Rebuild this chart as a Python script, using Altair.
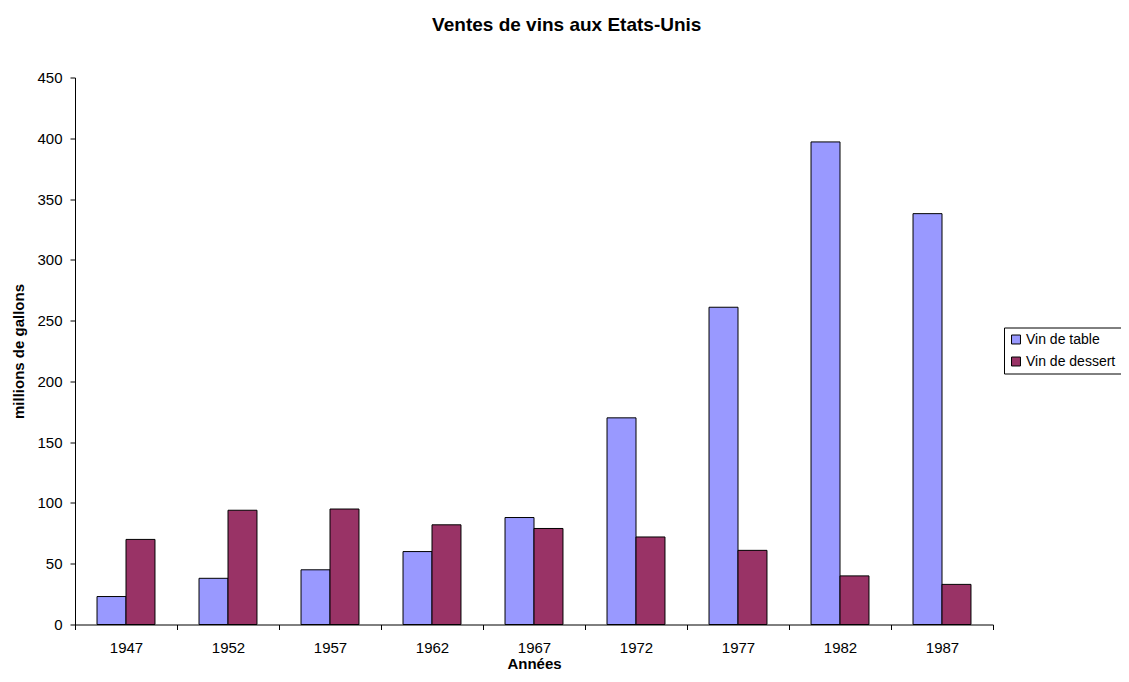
import altair as alt
import pandas as pd

years = ["1947", "1952", "1957", "1962", "1967", "1972", "1977", "1982", "1987"]
vin_table = [23, 38, 45, 60, 88, 170, 261, 397, 338]
vin_dessert = [70, 94, 95, 82, 79, 72, 61, 40, 33]
series = ["Vin de table", "Vin de dessert"]
colors = ["#9999FF", "#993366"]
y_ticks = [0, 50, 100, 150, 200, 250, 300, 350, 400, 450]

rows = []
for i, yr in enumerate(years):
    rows.append({"annee": yr, "serie": series[0], "valeur": vin_table[i]})
    rows.append({"annee": yr, "serie": series[1], "valeur": vin_dessert[i]})
df = pd.DataFrame(rows)

FONT = "Liberation Sans"

chart = alt.Chart(df).mark_bar(stroke="black", strokeWidth=1).encode(
    x=alt.X(
        "annee:N",
        sort=years,
        title="Années",
        scale=alt.Scale(paddingInner=0, paddingOuter=0),
        axis=alt.Axis(
            tickBand="extent",
            labelAngle=0,
            labelFont=FONT,
            labelFontSize=15,
            labelColor="black",
            labelPadding=11,
            tickColor="black",
            tickSize=5,
            domainColor="black",
            titleFont=FONT,
            titleFontSize=15,
            titleFontWeight="bold",
            titleColor="black",
            titlePadding=1,
        ),
    ),
    xOffset=alt.XOffset(
        "serie:N", sort=series, scale=alt.Scale(paddingInner=0, paddingOuter=0.76)
    ),
    y=alt.Y(
        "valeur:Q",
        title="millions de gallons",
        scale=alt.Scale(domain=[0, 450], nice=False),
        axis=alt.Axis(
            values=y_ticks,
            grid=False,
            labelFont=FONT,
            labelFontSize=15,
            labelColor="black",
            labelPadding=8,
            tickColor="black",
            tickSize=5,
            domainColor="black",
            titleFont=FONT,
            titleFontSize=15,
            titleFontWeight="bold",
            titleColor="black",
            titlePadding=10,
        ),
    ),
    color=alt.Color(
        "serie:N",
        sort=series,
        scale=alt.Scale(domain=series, range=colors),
        legend=alt.Legend(
            title=None,
            orient="none",
            legendX=929,
            legendY=250,
            direction="vertical",
            fillColor="white",
            strokeColor="black",
            padding=5,
            symbolType="square",
            symbolSize=80,
            symbolStrokeColor="black",
            symbolStrokeWidth=1,
            symbolOpacity=1,
            labelFont=FONT,
            labelFontSize=14,
            labelColor="black",
            labelOffset=3,
            rowPadding=8,
        ),
    ),
).properties(
    width=918,
    height=547,
    background="white",
    title=alt.TitleParams(
        "Ventes de vins aux Etats-Unis",
        font=FONT,
        fontSize=19,
        fontWeight="bold",
        color="black",
        anchor="middle",
        frame="bounds",
        offset=36,
    ),
    autosize=alt.AutoSizeParams(type="none"),
    padding={"left": 67, "top": 69.5, "right": 128, "bottom": 49},
).configure_view(strokeWidth=0, stroke=None)

chart.save("out.html", embed_options={"renderer": "svg", "actions": False})
